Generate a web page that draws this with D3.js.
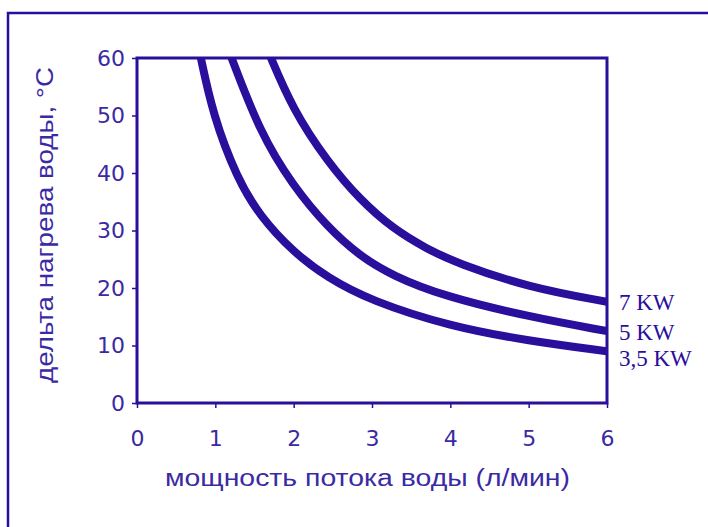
<!DOCTYPE html>
<html>
<head>
<meta charset="utf-8">
<script src="https://cdn.jsdelivr.net/npm/d3@7"></script>
<style>
  body { margin: 0; background: #fff; }
  svg { display: block; }
</style>
</head>
<body>
<div id="chart"></div>
<script>
// values
const flow35 = [0.8, 0.97, 1.28, 1.57, 1.99, 2.43, 2.98, 4.0, 5.0, 6.0];
const dt35 = [61, 50, 39, 32.5, 26.3, 21.8, 17.8, 13.3, 10.8, 9.0];
const flow5 = [1.18, 1.57, 1.99, 2.43, 2.85, 3.27, 3.91, 5.0, 6.0];
const dt5 = [61, 47, 37.8, 30.6, 25.5, 22.1, 18.6, 15.0, 12.5];
const flow7 = [1.68, 1.99, 2.43, 2.85, 3.27, 3.7, 4.09, 5.0, 6.0];
const dt7 = [61, 51, 42, 35.3, 30.3, 26.8, 24.3, 20.1, 17.6];
const seriesNames = ["7 KW", "5 KW", "3,5 KW"];
const xTicks = [0, 1, 2, 3, 4, 5, 6];
const yTicks = [0, 10, 20, 30, 40, 50, 60];

const W = 708, H = 527;
const blue = "#2a0e9c";
const textBlue = "#3a2aa4";
const margin = { left: 137, top: 58, right: 101, bottom: 124 };

const svg = d3.select("#chart").append("svg")
  .attr("width", W)
  .attr("height", H);

// outer frame (only left/top edges fall inside the picture)
svg.append("rect")
  .attr("x", 8).attr("y", 13)
  .attr("width", W + 20).attr("height", H + 20)
  .attr("fill", "none")
  .attr("stroke", blue)
  .attr("stroke-width", 2.5);

const x = d3.scaleLinear().domain([0, 6]).range([margin.left, W - margin.right]);
const y = d3.scaleLinear().domain([0, 60]).range([H - margin.bottom, margin.top]);

svg.append("clipPath").attr("id", "clip")
  .append("rect")
  .attr("x", x(0)).attr("y", y(60))
  .attr("width", x(6) - x(0)).attr("height", y(0) - y(60));

const line = d3.line()
  .x(d => x(d[0]))
  .y(d => y(d[1]))
  .curve(d3.curveBasis);

const series = [
  d3.zip(flow7, dt7),
  d3.zip(flow5, dt5),
  d3.zip(flow35, dt35)
];

svg.append("g").attr("clip-path", "url(#clip)")
  .selectAll("path")
  .data(series)
  .enter().append("path")
  .attr("d", line)
  .attr("fill", "none")
  .attr("stroke", blue)
  .attr("stroke-width", 8);

// plot box
svg.append("rect")
  .attr("x", x(0)).attr("y", y(60))
  .attr("width", x(6) - x(0)).attr("height", y(0) - y(60))
  .attr("fill", "none")
  .attr("stroke", blue)
  .attr("stroke-width", 3);

const xAxis = svg.append("g")
  .attr("transform", `translate(0,${y(0)})`)
  .call(d3.axisBottom(x).tickValues(xTicks).tickFormat(d3.format("d")).tickSize(5).tickPadding(22));
const yAxis = svg.append("g")
  .attr("transform", `translate(${x(0)},0)`)
  .call(d3.axisLeft(y).tickValues(yTicks).tickFormat(d3.format("d")).tickSize(5).tickPadding(7));

[xAxis, yAxis].forEach(a => {
  a.select(".domain").remove();
  a.selectAll("line").attr("stroke", blue).attr("stroke-width", 1.5);
  a.selectAll("text")
    .attr("fill", textBlue)
    .style("font-family", "'DejaVu Sans', sans-serif")
    .style("font-size", "22px");
});

svg.append("text")
  .attr("x", 165)
  .attr("y", 486)
  .attr("textLength", 405)
  .attr("lengthAdjust", "spacingAndGlyphs")
  .attr("fill", textBlue)
  .style("font-family", "'Liberation Sans', Arial, sans-serif")
  .style("font-size", "23px")
  .text("мощность потока воды (л/мин)");

svg.append("text")
  .attr("transform", "translate(53,383) rotate(-90)")
  .attr("textLength", 316)
  .attr("lengthAdjust", "spacingAndGlyphs")
  .attr("fill", textBlue)
  .style("font-family", "'Liberation Sans', Arial, sans-serif")
  .style("font-size", "23px")
  .text("дельта нагрева воды, °C");

// series labels at right end
const labelY = [310, 340, 366];
svg.selectAll(".lbl")
  .data(seriesNames)
  .enter().append("text")
  .attr("x", x(6) + 12)
  .attr("y", (d, i) => labelY[i])
  .attr("fill", blue)
  .style("font-family", "'Liberation Serif', 'Times New Roman', serif")
  .style("font-size", "23px")
  .text(d => d);
</script>
</body>
</html>
